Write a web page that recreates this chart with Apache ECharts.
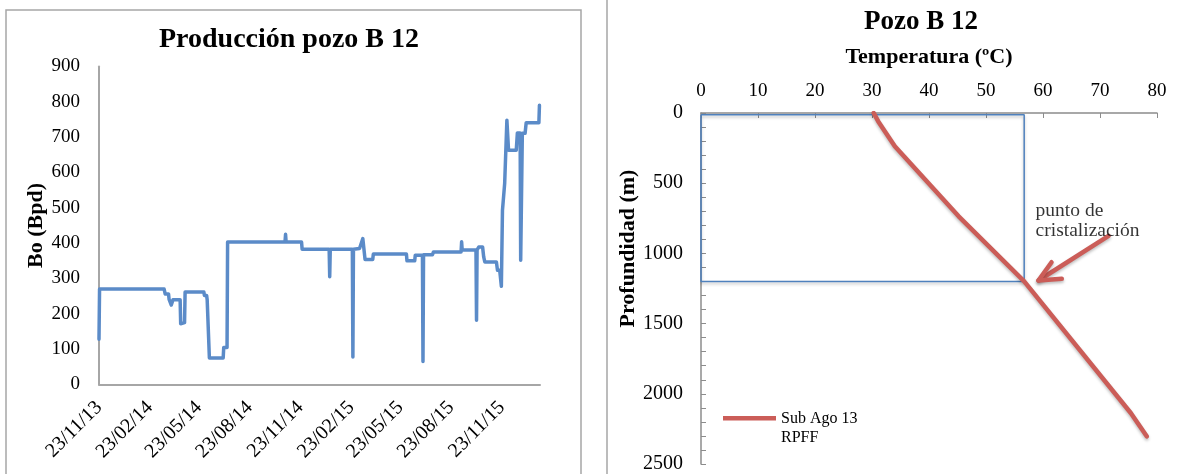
<!DOCTYPE html>
<html>
<head>
<meta charset="utf-8">
<script src="https://cdn.jsdelivr.net/npm/echarts@6/dist/echarts.min.js"></script>
<style>html,body{margin:0;padding:0;background:#fff}#c{width:1181px;height:474px}</style>
</head>
<body>
<div id="c"></div>
<script>
// ---- Left chart: production of well B 12 ----
const prodDates = ['2013-11-23','2013-11-24','2014-03-21','2014-03-23','2014-03-29','2014-03-30','2014-04-03','2014-04-06','2014-04-19','2014-04-20','2014-04-27','2014-04-28','2014-06-01','2014-06-02','2014-06-06','2014-06-07','2014-06-10','2014-06-11','2014-07-06','2014-07-07','2014-07-13','2014-07-14','2014-10-26','2014-10-27','2014-10-28','2014-11-25','2014-11-26','2015-01-14','2015-01-15','2015-01-16','2015-02-25','2015-02-26','2015-02-27','2015-03-10','2015-03-16','2015-03-20','2015-04-03','2015-04-04','2015-06-03','2015-06-04','2015-06-18','2015-06-19','2015-07-02','2015-07-03','2015-07-04','2015-07-20','2015-07-22','2015-09-10','2015-09-11','2015-09-12','2015-10-07','2015-10-08','2015-10-09','2015-10-12','2015-10-19','2015-10-21','2015-10-23','2015-11-13','2015-11-15','2015-11-19','2015-11-22','2015-11-24','2015-11-28','2015-12-02','2015-12-05','2015-12-19','2015-12-21','2015-12-26','2015-12-27','2015-12-30','2016-01-04','2016-01-06','2016-01-29','2016-01-30'];
const prodBpd = [128,270,270,256,256,241,225,240,240,172,175,262,262,252,252,240,240,75,75,105,105,403,403,425,403,403,383,383,305,383,383,78,383,385,413,354,354,369,369,350,350,366,366,65,367,367,375,375,404,381,381,182,381,389,389,361,347,347,323,323,278,493,569,748,663,663,712,712,352,711,711,741,741,790];
const dateTicks = ['2013-11-23','2014-02-23','2014-05-23','2014-08-23','2014-11-23','2015-02-23','2015-05-23','2015-08-23','2015-11-23'];
const dateMin = '2013-11-23';
const dateMax = '2016-01-31';

// ---- Right chart: temperature profile ----
const tempC = [30.3, 31.1, 34.0, 45.2, 56.7, 75.4, 78.2];
const depthM = [0, 60, 237, 736, 1199, 2137, 2303];
const boxT = [0, 56.7, 56.7, 0, 0];
const boxD = [12, 12, 1200, 1200, 12];
const arrowShaftT = [71.5, 59.2];
const arrowShaftD = [875, 1193];
const arrowHeadT = [61.5, 59.2, 63.3];
const arrowHeadD = [1063, 1193, 1181];
const noteT = 58.7, noteD = 769;

function ts(s){const p=s.split('-').map(Number);return Date.UTC(p[0],p[1]-1,p[2]);}
function fmt(v){const d=new Date(v);const z=n=>String(n).padStart(2,'0');return z(d.getUTCDate())+'/'+z(d.getUTCMonth()+1)+'/'+z(d.getUTCFullYear()%100);}

const serif = 'Liberation Serif';
const red = '#CB5D58';
const shadow = {shadowColor:'rgba(0,0,0,0.25)', shadowBlur:3, shadowOffsetY:2};

const chart = echarts.init(document.getElementById('c'), null, {renderer:'canvas'});
chart.setOption({
  backgroundColor:'#fff',
  animation:false,
  title:[
    {text:'Producción pozo B 12', left:284, top:21, textAlign:'center', textStyle:{fontFamily:serif, fontWeight:'bold', fontSize:28, color:'#000'}},
    {text:'Pozo B 12', left:916, top:4, textAlign:'center', textStyle:{fontFamily:serif, fontWeight:'bold', fontSize:27, color:'#000'}}
  ],
  graphic:[
    {type:'rect', shape:{x:6, y:10, width:575, height:480}, style:{fill:'none', stroke:'#a6a6a6', lineWidth:1.5}, silent:true},
    {type:'line', shape:{x1:607, y1:0, x2:607, y2:474}, style:{stroke:'#a6a6a6', lineWidth:1.5}, silent:true}
  ],
  legend:{
    data:[{name:'Sub Ago 13\nRPFF', icon:'path://M0,0L53,0L53,4.5L0,4.5Z M0,25'}],
    left:723, top:409.5, padding:0, itemWidth:53, itemHeight:25,
    textStyle:{fontFamily:serif, fontSize:16, lineHeight:19, color:'#000'}
  },
  grid:[
    {left:99, top:66.5, width:441, height:318},
    {left:701, top:113, width:456, height:353.5}
  ],
  xAxis:[
    {type:'value', gridIndex:0, min:ts(dateMin), max:ts(dateMax),
     axisLine:{lineStyle:{color:'#a6a6a6', width:2}}, axisTick:{show:false}, splitLine:{show:false},
     axisLabel:{customValues:dateTicks.map(ts), formatter:fmt, rotate:45, margin:20, fontFamily:serif, fontSize:20, color:'#000', hideOverlap:false}},
    {type:'value', gridIndex:1, position:'top', min:0, max:80, interval:10,
     name:'Temperatura (ºC)', nameLocation:'middle', nameGap:45,
     nameTextStyle:{fontFamily:serif, fontWeight:'bold', fontSize:22, color:'#000'},
     axisLine:{lineStyle:{color:'#8c8c8c', width:1.5}}, axisTick:{inside:true, length:5, lineStyle:{color:'#8c8c8c'}},
     splitLine:{show:false},
     axisLabel:{margin:12, fontFamily:serif, fontSize:19, color:'#000'}}
  ],
  yAxis:[
    {type:'value', gridIndex:0, min:0, max:900, interval:100,
     name:'Bo (Bpd)', nameLocation:'middle', nameGap:51, nameRotate:90,
     nameTextStyle:{fontFamily:serif, fontWeight:'bold', fontSize:22, color:'#000'},
     axisLine:{show:true, lineStyle:{color:'#a6a6a6', width:2}}, axisTick:{show:false}, splitLine:{show:false},
     axisLabel:{margin:19, fontFamily:serif, fontSize:19, color:'#000'}},
    {type:'value', gridIndex:1, inverse:true, min:0, max:2500, interval:500,
     name:'Profundidad (m)', nameLocation:'middle', nameGap:62, nameRotate:90,
     nameTextStyle:{fontFamily:serif, fontWeight:'bold', fontSize:22, color:'#000', padding:[0,0,0,80]},
     axisLine:{show:true, lineStyle:{color:'#8c8c8c', width:1.5}},
     axisTick:{show:true, inside:true, length:5, lineStyle:{color:'#8c8c8c'}},
     minorTick:{show:true, splitNumber:5, length:5, lineStyle:{color:'#8c8c8c'}},
     splitLine:{show:false},
     axisLabel:{margin:18, fontFamily:serif, fontSize:20, color:'#000', formatter:v=>String(v)}}
  ],
  series:[
    {type:'line', name:'Producción', xAxisIndex:0, yAxisIndex:0, showSymbol:false,
     data:prodDates.map((d,i)=>[ts(d), prodBpd[i]]),
     lineStyle:{color:'#5B8BC8', width:3.5, join:'round', cap:'round'}},
    {type:'line', name:'box', xAxisIndex:1, yAxisIndex:1, showSymbol:false,
     data:boxT.map((t,i)=>[t, boxD[i]]),
     lineStyle:Object.assign({color:'#4F81BD', width:1.5}, shadow)},
    {type:'line', name:'Sub Ago 13\nRPFF', xAxisIndex:1, yAxisIndex:1, showSymbol:false, color:red,
     data:tempC.map((t,i)=>[t, depthM[i]]),
     lineStyle:Object.assign({color:red, width:4.5, cap:'round', join:'round'}, shadow)},
    {type:'lines', coordinateSystem:'cartesian2d', xAxisIndex:1, yAxisIndex:1, polyline:true, silent:true,
     data:[
       {coords:arrowShaftT.map((t,i)=>[t, arrowShaftD[i]])},
       {coords:arrowHeadT.map((t,i)=>[t, arrowHeadD[i]])}
     ],
     lineStyle:Object.assign({color:red, width:4.5, cap:'round', join:'round', opacity:1}, shadow)},
    {type:'scatter', xAxisIndex:1, yAxisIndex:1, symbolSize:0, silent:true,
     data:[[noteT, noteD]],
     label:{show:true, position:'right', distance:0, formatter:'punto de\ncristalización', fontFamily:serif, fontSize:19.5, lineHeight:20, color:'#000', align:'left'}}
  ]
});
</script>
</body>
</html>
